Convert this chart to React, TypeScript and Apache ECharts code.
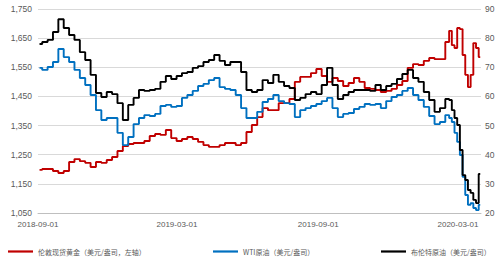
import { useEffect, useRef } from "react";
import * as echarts from "echarts";

const dates = [
  "2018-09-03","2018-09-10","2018-09-17","2018-09-24","2018-10-01","2018-10-08","2018-10-15","2018-10-22","2018-10-29","2018-11-05",
  "2018-11-12","2018-11-19","2018-11-26","2018-12-03","2018-12-10","2018-12-17","2018-12-24","2018-12-31","2019-01-07","2019-01-14",
  "2019-01-21","2019-01-28","2019-02-04","2019-02-11","2019-02-18","2019-02-25","2019-03-04","2019-03-11","2019-03-18","2019-03-25",
  "2019-04-01","2019-04-08","2019-04-15","2019-04-22","2019-04-29","2019-05-06","2019-05-13","2019-05-20","2019-05-27","2019-06-03",
  "2019-06-10","2019-06-17","2019-06-24","2019-07-01","2019-07-08","2019-07-15","2019-07-22","2019-07-29","2019-08-05","2019-08-12",
  "2019-08-19","2019-08-26","2019-09-02","2019-09-09","2019-09-16","2019-09-23","2019-09-30","2019-10-07","2019-10-14","2019-10-21",
  "2019-10-28","2019-11-04","2019-11-11","2019-11-18","2019-11-25","2019-12-02","2019-12-09","2019-12-16","2019-12-23","2019-12-30",
  "2020-01-06","2020-01-13","2020-01-20","2020-01-27","2020-02-03","2020-02-10",
  "2020-02-17","2020-02-20","2020-02-24","2020-02-27","2020-03-02","2020-03-05","2020-03-09","2020-03-12","2020-03-16","2020-03-19",
  "2020-03-23","2020-03-26","2020-03-30",
];

const gold = [
  1198,1201,1201,1194,1187,1194,1225,1235,1228,1222,
  1208,1225,1222,1232,1242,1263,1280,1287,1290,1290,
  1297,1314,1321,1318,1335,1307,1297,1304,1311,1304,
  1294,1283,1277,1277,1283,1290,1290,1283,1290,1328,
  1352,1379,1410,1403,1403,1427,1427,1441,1500,1517,
  1517,1530,1544,1520,1500,1513,1503,1486,1496,1513,
  1500,1479,1476,1472,1465,1469,1476,1489,1503,1548,
  1561,1558,1572,1582,1578,1578,
  1637,1675,1626,1616,1685,1681,1592,1524,1482,1524,
  1633,1616,1585,
];

const wti = [
  69.8,69.1,70.1,71.8,76.3,73.5,71.8,69.1,66.3,63.9,
  60.5,55.3,51.9,52.6,52.6,47.5,43.3,46.1,50.5,52.6,
  53.6,53.3,54.0,56.7,57.1,56.4,56.7,59.5,60.5,61.9,
  63.6,64.3,65.6,66.3,63.2,62.6,62.2,60.5,56.0,52.6,
  52.6,54.7,58.1,59.1,60.5,58.4,57.7,57.4,52.9,55.3,
  56.0,56.7,57.4,58.4,59.5,56.0,52.9,54.0,54.3,55.7,
  56.4,57.4,57.1,57.4,56.0,58.4,59.8,60.5,61.9,62.9,
  60.5,58.8,56.4,53.3,50.5,51.2,
  53.6,52.6,51.2,47.5,44.4,39.9,32.4,26.2,22.8,23.4,
  21.7,21.0,22.8,
];

const brent = [
  78.0,78.7,79.4,82.1,86.5,83.5,81.1,79.4,75.2,72.5,
  67.4,61.2,59.8,61.5,60.8,57.7,51.9,57.1,59.5,62.2,
  61.9,62.2,62.6,65.0,67.0,66.0,67.0,68.0,68.4,69.8,
  70.4,71.8,72.5,74.2,72.2,70.8,71.8,71.8,68.4,62.2,
  61.5,62.2,65.6,64.6,67.4,65.0,63.6,62.9,58.8,59.5,
  60.8,61.5,60.8,63.9,69.8,63.9,59.1,60.5,61.5,62.2,
  62.2,62.2,61.9,63.9,62.2,63.6,64.3,66.0,67.7,69.1,
  66.3,65.0,61.5,58.8,54.7,56.0,
  59.1,58.8,55.3,52.6,50.2,41.6,33.0,31.3,27.9,26.9,
  24.5,23.4,33.4,
];

const leftTicks = [1050, 1150, 1250, 1350, 1450, 1550, 1650, 1750];
const xTickDates = ["2018-09-01", "2019-03-01", "2019-09-01", "2020-03-01"];
const xMin = "2018-09-01";
const xMax = "2020-03-31";
const names = [
  "伦敦现货黄金（美元/盎司，左轴）",
  "WTI原油（美元/盎司）",
  "布伦特原油（美元/盎司）",
];
const colors = ["#c00000", "#0070c0", "#000000"];

function toTs(s: string): number {
  const [y, m, d] = s.split("-").map(Number);
  return Date.UTC(y, m - 1, d);
}
function pad(n: number) {
  return n < 10 ? "0" + n : "" + n;
}

export default function App() {
  const ref = useRef<HTMLDivElement>(null);
  useEffect(() => {
    if (!ref.current) return;
    const chart = echarts.init(ref.current, undefined, { renderer: "svg" });
    const labelFont = "'Liberation Sans', Arial, sans-serif";
    const legendText = {
      fontSize: 7,
      color: "#595959",
      fontFamily: "'Noto Sans CJK SC', sans-serif",
    };
    const legendBase = {
      top: 243,
      icon: "rect",
      itemWidth: 25,
      itemHeight: 2.2,
      textStyle: legendText,
    };
    const mk = (vals: number[]) => dates.map((d, i) => [toTs(d), vals[i]]);
    const line = (i: number, yAxisIndex: number, vals: number[]) => ({
      name: names[i],
      type: "line",
      yAxisIndex,
      data: mk(vals),
      symbol: "none",
      step: "middle",
      lineStyle: { color: colors[i], width: 1.9 },
      itemStyle: { color: colors[i] },
    });
    chart.setOption({
      animation: false,
      backgroundColor: "#ffffff",
      grid: { left: 38, right: 18, top: 9, bottom: 44, containLabel: false },
      legend: [
        { ...legendBase, left: 3, data: [names[0]] },
        { ...legendBase, left: 208, data: [names[1]] },
        { ...legendBase, left: 376, data: [names[2]] },
      ],
      xAxis: {
        type: "value",
        min: toTs(xMin),
        max: toTs(xMax),
        axisLine: { show: true, lineStyle: { color: "#bfbfbf", width: 1 } },
        axisTick: { show: false },
        splitLine: { show: false },
        axisLabel: {
          customValues: xTickDates.map(toTs),
          fontSize: 8,
          color: "#595959",
          fontFamily: labelFont,
          margin: 7,
          formatter: (v: number) => {
            const d = new Date(v);
            return d.getUTCFullYear() + "-" + pad(d.getUTCMonth() + 1) + "-" + pad(d.getUTCDate());
          },
        },
      },
      yAxis: [
        {
          type: "value",
          position: "left",
          min: 1050,
          max: 1750,
          axisLine: { show: false },
          axisTick: { show: false },
          splitLine: { show: false },
          axisLabel: {
            customValues: leftTicks,
            fontSize: 8.5,
            color: "#595959",
            fontFamily: labelFont,
            margin: 6,
            formatter: (v: number) => v.toLocaleString("en-US"),
          },
        },
        {
          type: "value",
          position: "right",
          min: 20,
          max: 90,
          interval: 10,
          axisLine: { show: false },
          axisTick: { show: false },
          splitLine: { show: true, lineStyle: { color: "#d9d9d9", width: 1 } },
          axisLabel: {
            fontSize: 8.5,
            color: "#595959",
            fontFamily: labelFont,
            margin: 4,
          },
        },
      ],
      series: [line(0, 0, gold), line(1, 1, wti), line(2, 1, brent)],
    });
    return () => chart.dispose();
  }, []);
  return (
    <div
      ref={ref}
      style={{ position: "fixed", left: 0, top: 0, width: 499, height: 257 }}
    />
  );
}
